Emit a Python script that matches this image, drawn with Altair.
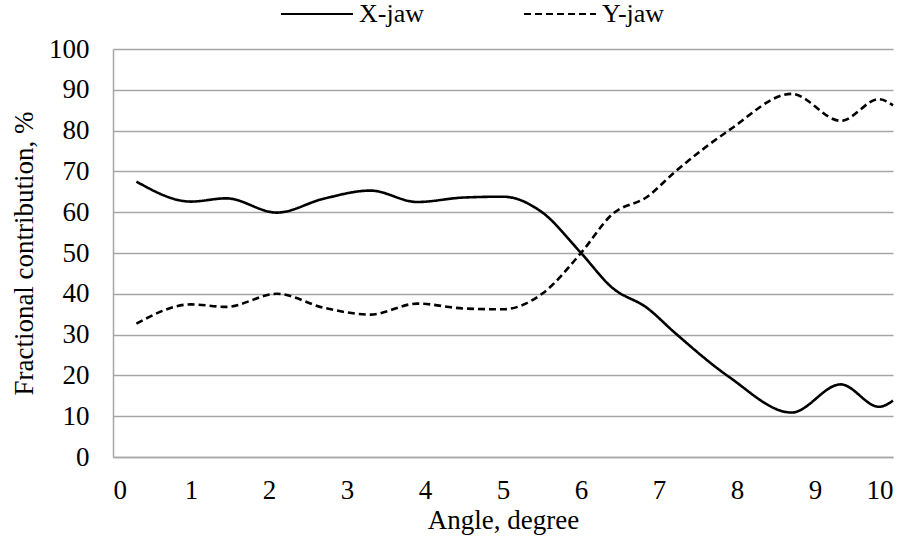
import altair as alt
import pandas as pd

angle = [0.3, 1.0, 1.45, 2.1, 2.7, 3.3, 3.9, 4.5, 5.0, 5.5, 6.0, 6.4, 6.85, 7.2, 7.9, 8.7, 9.33, 9.82, 10.0]
x_jaw = [67.5, 62.6, 63.4, 59.9, 63.3, 65.3, 62.5, 63.6, 63.8, 60.0, 50.0, 41.5, 36.5, 30.5, 19.6, 10.9, 17.8, 12.3, 13.8]
y_jaw = [32.7, 37.4, 36.8, 40.0, 36.6, 34.9, 37.6, 36.4, 36.2, 40.0, 50.0, 59.5, 63.8, 69.8, 80.1, 89.0, 82.4, 87.7, 86.2]
series = ["X-jaw", "Y-jaw"]

rows = []
for a, xv, yv in zip(angle, x_jaw, y_jaw):
    rows.append({"angle": a, "value": xv, "series": series[0]})
    rows.append({"angle": a, "value": yv, "series": series[1]})
df = pd.DataFrame(rows)

FONT = "Liberation Serif"
GRID = "#a6a6a6"

chart = alt.Chart(df).mark_line(
    interpolate="monotone", strokeWidth=2.6, color="black"
).encode(
    x=alt.X("angle:Q", scale=alt.Scale(domain=[0, 10], nice=False),
            axis=alt.Axis(title="Angle, degree", values=list(range(0, 11)),
                          grid=False, ticks=False, labelPadding=20,
                          domainColor=GRID, domainWidth=1.5,
                          titleBaseline="alphabetic", titleY=71)),
    y=alt.Y("value:Q", scale=alt.Scale(domain=[0, 100], nice=False),
            axis=alt.Axis(title="Fractional contribution, %",
                          values=list(range(0, 101, 10)),
                          grid=True, gridColor=GRID, gridWidth=1.3,
                          ticks=False, labelPadding=24,
                          domainColor=GRID, domainWidth=1.5,
                          titleBaseline="middle", titleX=-89, titleY=204)),
    strokeDash=alt.StrokeDash(
        "series:N",
        scale=alt.Scale(domain=series, range=[[1, 0], [7, 4]]),
        legend=alt.Legend(title=None, orient="none", direction="horizontal",
                          legendX=167, legendY=-72,
                          symbolType="stroke", symbolSize=5184,
                          symbolStrokeWidth=2, symbolStrokeColor="black",
                          labelFontSize=26, labelFont=FONT, labelColor="black",
                          labelOffset=5, columnPadding=96, padding=0),
    ),
).properties(
    width=780, height=408,
    autosize=alt.AutoSizeParams(type="none"),
    padding={"left": 113, "top": 49, "right": 15, "bottom": 80},
).configure_view(stroke=None).configure_axis(
    labelFont=FONT, titleFont=FONT, labelFontSize=27, titleFontSize=27,
    labelColor="black", titleColor="black", titleFontWeight="normal",
)

chart.save("out.html", embed_options={"renderer": "svg", "actions": False})
